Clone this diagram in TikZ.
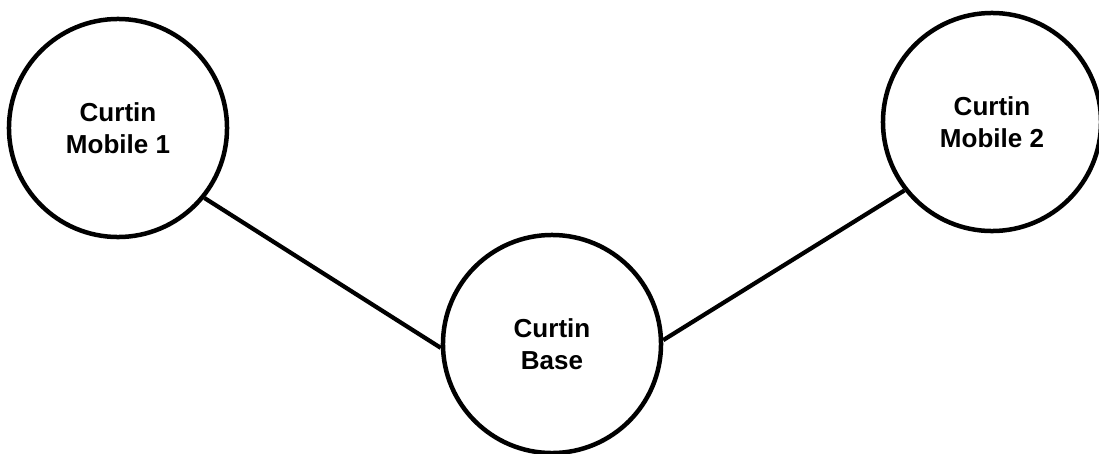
\documentclass[tikz,border=0pt]{standalone}
\usepackage{fontspec}
\setmainfont{Liberation Sans}
\usepackage{tikz}

\begin{document}
\begin{tikzpicture}[x=0.025cm, y=-0.025cm]
    % Define styles for circles and lines
    \tikzstyle{station} = [circle, minimum size=5.45cm, inner sep=0pt, draw=black, line width=3.2pt, align=center, font=\fontsize{18.5}{23}\selectfont\bfseries]
    \tikzstyle{link} = [line width=3pt, -]

    \useasboundingbox (0, 0) rectangle (1099, 454);

    % circles
    \node (mobileone) [station] at (118, 128) {Curtin\\Mobile 1};
    \node (base) [station] at (552, 344) {Curtin\\Base};
    \node (mobiletwo) [station] at (992, 122) {Curtin\\Mobile 2};

    % Lines
    \draw [link] (mobileone.-39) -- (base.182);
    \draw [link] (base.2) -- (mobiletwo.218);
\end{tikzpicture}
\end{document}
